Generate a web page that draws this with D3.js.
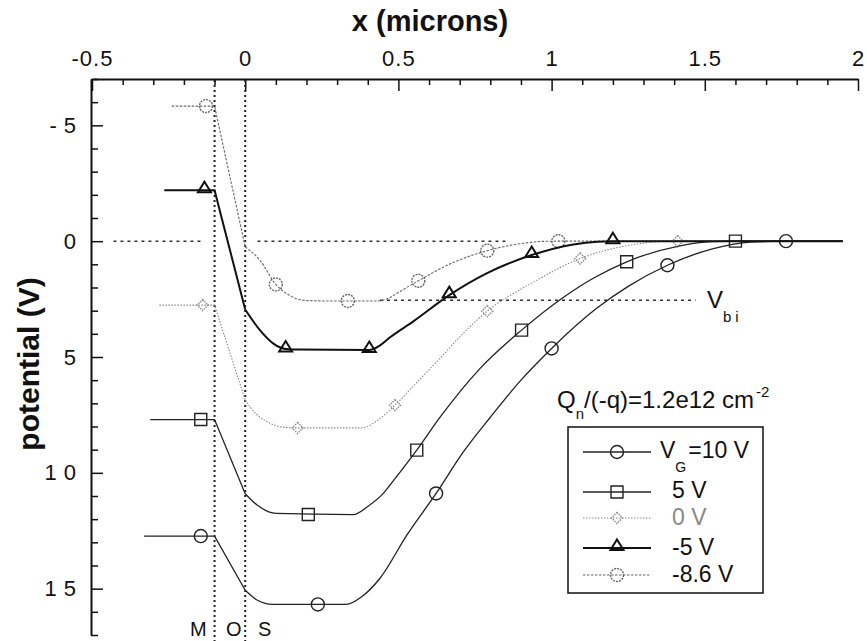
<!DOCTYPE html>
<html>
<head>
<meta charset="utf-8">
<script src="https://cdn.jsdelivr.net/npm/d3@7"></script>
<style>
body { margin: 0; background: #fff; }
text { font-family: "Liberation Sans", Arial, Helvetica, sans-serif; fill: #111; }
</style>
</head>
<body>
<div class="chart"></div>
<script>
// Axis ticks
var xTicks = [-0.5, 0, 0.5, 1, 1.5, 2];
var yTicks = [-5, 0, 5, 10, 15];

// Gate voltages (legend text)
var gateLabels = ["=10 V", "5 V", "0 V", "-5 V", "-8.6 V"];

// Metal / oxide / silicon interfaces (microns)
var interfaces = [-0.1, 0];

// Flat metal level of each curve and where the line starts
var metalStart = [-0.33, -0.31, -0.28, -0.264, -0.24];
var metalLevel = [12.73, 7.7, 2.76, -2.2, -5.83];

// Potential in the silicon (x >= 0)
var semi10 = [[0, 15.07], [0.04, 15.5], [0.09, 15.68], [0.33, 15.68], [0.38, 15.35], [0.44, 14.55],
  [0.527, 12.7], [0.623, 10.89], [0.712, 9.1], [0.8, 7.6], [0.9, 6.0], [1.0, 4.63], [1.147, 2.9],
  [1.25, 1.95], [1.378, 1.04], [1.528, 0.32], [1.65, 0.04], [1.765, 0], [1.95, 0]];
var semi5 = [[0, 10.9], [0.04, 11.4], [0.1, 11.75], [0.353, 11.8], [0.4, 11.45], [0.45, 10.9],
  [0.483, 10.35], [0.56, 9.02], [0.636, 7.6], [0.766, 5.5], [0.902, 3.84], [1.038, 2.43],
  [1.136, 1.6], [1.245, 0.89], [1.419, 0.2], [1.52, 0.02], [1.6, 0], [1.95, 0]];
var semi0 = [[0, 6.86], [0.035, 7.45], [0.07, 7.78], [0.12, 8.02], [0.171, 8.06], [0.38, 8.06],
  [0.43, 7.75], [0.489, 7.08], [0.56, 6.1], [0.636, 5.05], [0.71, 4.0], [0.79, 3.02], [0.93, 1.85],
  [1.093, 0.75], [1.256, 0.17], [1.35, 0.02], [1.411, 0], [1.95, 0]];
var semiM5 = [[0, 2.95], [0.048, 3.84], [0.092, 4.42], [0.132, 4.65], [0.17, 4.68], [0.405, 4.7],
  [0.44, 4.5], [0.473, 4.15], [0.55, 3.45], [0.666, 2.33], [0.788, 1.39], [0.935, 0.6],
  [1.071, 0.14], [1.15, 0.02], [1.2, 0], [1.95, 0]];
var semiM86 = [[0, 0.25], [0.048, 0.82], [0.1, 1.87], [0.14, 2.3], [0.19, 2.55], [0.25, 2.58],
  [0.43, 2.58], [0.47, 2.45], [0.494, 2.26], [0.565, 1.71], [0.679, 0.92], [0.79, 0.41],
  [0.908, 0.09], [0.97, 0.01], [1.022, 0], [1.95, 0]];

// Marker positions
var marks10 = [[-0.145, 12.73], [0.237, 15.68], [0.623, 10.89], [1.0, 4.63], [1.378, 1.04], [1.765, 0]];
var marks5 = [[-0.145, 7.7], [0.206, 11.8], [0.56, 9.02], [0.902, 3.84], [1.245, 0.89], [1.6, 0]];
var marks0 = [[-0.139, 2.76], [0.171, 8.06], [0.489, 7.08], [0.79, 3.02], [1.093, 0.75], [1.411, 0]];
var marksM5 = [[-0.133, -2.2], [0.132, 4.68], [0.405, 4.7], [0.666, 2.33], [0.935, 0.6], [1.2, 0]];
var marksM86 = [[-0.128, -5.83], [0.1, 1.87], [0.335, 2.58], [0.565, 1.71], [0.79, 0.41], [1.022, 0]];

// Reference lines
var zeroLineParts = [[-0.43, -0.14], [0.04, 0.85]];
var vbiLevel = 2.55;
var vbiRange = [0.44, 1.47];

var semis = [semi10, semi5, semi0, semiM5, semiM86];
var marks = [marks10, marks5, marks0, marksM5, marksM86];
var styles = [
  {sym: "circle", stroke: "#222", width: 1.3, dash: null, mdash: null},
  {sym: "square", stroke: "#222", width: 1.3, dash: null, mdash: null},
  {sym: "diamond", stroke: "#8a8a8a", width: 1.1, dash: "1.5,1.5", mdash: "1.5,1"},
  {sym: "triangle", stroke: "#111", width: 2, dash: null, mdash: null},
  {sym: "circle", stroke: "#666", width: 1.1, dash: "2.5,1.5", mdash: "2,1"}
];

var svg = d3.select(".chart").append("svg")
  .attr("width", 867)
  .attr("height", 641);

var x = d3.scaleLinear().domain([-0.5, 2]).range([92, 858]);
var y = d3.scaleLinear().domain([-7, 17]).range([79, 635]);

// minor ticks
var xMinor = d3.range(-0.5, 2.001, 0.1).filter(function(d) { return Math.abs(d * 2 - Math.round(d * 2)) > 1e-6; });
var yMinor = d3.range(-7, 17.001, 1).filter(function(d) { return d % 5 !== 0; });

svg.append("g")
  .attr("transform", "translate(0,79)")
  .call(d3.axisTop(x).tickValues(xMinor).tickSize(-6).tickFormat("").tickSizeOuter(0))
  .call(function(g) { g.select(".domain").remove(); });

svg.append("g")
  .attr("transform", "translate(91,0)")
  .call(d3.axisLeft(y).tickValues(yMinor).tickSize(-7).tickFormat("").tickSizeOuter(0))
  .call(function(g) { g.select(".domain").remove(); });

var xAxis = svg.append("g")
  .attr("transform", "translate(0,79)")
  .call(d3.axisTop(x).tickValues(xTicks).tickSize(-12).tickPadding(13).tickSizeOuter(0)
    .tickFormat(function(d) { return String(d); }));
xAxis.selectAll("text").style("font-size", "22px").style("letter-spacing", "1px");

var yAxis = svg.append("g")
  .attr("transform", "translate(91,0)")
  .call(d3.axisLeft(y).tickValues(yTicks).tickSize(-12).tickPadding(8).tickSizeOuter(0)
    .tickFormat(function(d) { return String(d); }));
yAxis.selectAll("text").style("font-size", "22px").style("letter-spacing", "7px");

svg.selectAll(".domain").attr("stroke-width", 2).attr("stroke", "#111");
svg.selectAll(".tick line").attr("stroke-width", 1.5).attr("stroke", "#111");

// MOS boundaries
svg.selectAll(".iface")
  .data(interfaces)
  .enter()
  .append("line")
  .attr("x1", function(d) { return x(d); })
  .attr("x2", function(d) { return x(d); })
  .attr("y1", 80)
  .attr("y2", 641)
  .attr("stroke", "#222")
  .attr("stroke-width", 2)
  .attr("stroke-dasharray", "2,3");

// V = 0 and Vbi dotted lines
svg.selectAll(".zero")
  .data(zeroLineParts)
  .enter()
  .append("line")
  .attr("x1", function(d) { return x(d[0]); })
  .attr("x2", function(d) { return x(d[1]); })
  .attr("y1", y(0))
  .attr("y2", y(0))
  .attr("stroke", "#333")
  .attr("stroke-width", 1.5)
  .attr("stroke-dasharray", "3,4");

svg.append("line")
  .attr("x1", x(vbiRange[0]))
  .attr("x2", x(vbiRange[1]))
  .attr("y1", y(vbiLevel))
  .attr("y2", y(vbiLevel))
  .attr("stroke", "#333")
  .attr("stroke-width", 1.5)
  .attr("stroke-dasharray", "3,4");

var lineLinear = d3.line()
  .x(function(d) { return x(d[0]); })
  .y(function(d) { return y(d[1]); });

var lineSmooth = d3.line()
  .curve(d3.curveMonotoneX)
  .x(function(d) { return x(d[0]); })
  .y(function(d) { return y(d[1]); });

function markerPath(sym) {
  if (sym === "square") return "M-6,-6H6V6H-6Z";
  if (sym === "diamond") return "M0,-5.5L5.5,0L0,5.5L-5.5,0Z";
  if (sym === "triangle") return "M0,-8.5L6.5,2L-6.5,2Z";
  return d3.symbol(d3.symbolCircle, 133)();
}

function drawMarker(g, st, cx, cy) {
  g.append("path")
    .attr("d", markerPath(st.sym))
    .attr("transform", "translate(" + cx + "," + cy + ")")
    .attr("fill", "none")
    .attr("stroke", st.stroke)
    .attr("stroke-width", st.sym === "triangle" ? 2 : 1.4)
    .attr("stroke-dasharray", st.mdash);
}

// draw curves, dotted ones first so the solid ones stay on top
var curves = svg.append("g");
[4, 2, 0, 1, 3].forEach(function(i) {
  var st = styles[i];
  var g = curves.append("g");
  var metal = [[metalStart[i], metalLevel[i]], [interfaces[0], metalLevel[i]], semis[i][0]];
  g.append("path")
    .attr("d", lineLinear(metal))
    .attr("fill", "none")
    .attr("stroke", st.stroke)
    .attr("stroke-width", st.width)
    .attr("stroke-dasharray", st.dash);
  g.append("path")
    .attr("d", lineSmooth(semis[i]))
    .attr("fill", "none")
    .attr("stroke", st.stroke)
    .attr("stroke-width", st.width)
    .attr("stroke-dasharray", st.dash);
  marks[i].forEach(function(m) {
    drawMarker(g, st, x(m[0]), y(m[1]));
  });
});

// axis titles
svg.append("text")
  .attr("x", 430)
  .attr("y", 31)
  .attr("text-anchor", "middle")
  .style("font-size", "29px")
  .style("font-weight", "bold")
  .text("x (microns)");

svg.append("text")
  .attr("transform", "translate(39,364) rotate(-90)")
  .attr("text-anchor", "middle")
  .style("font-size", "30px")
  .style("font-weight", "bold")
  .text("potential (V)");

// M O S labels
[["M", 190], ["O", 226], ["S", 258]].forEach(function(d) {
  svg.append("text")
    .attr("x", d[1])
    .attr("y", 636)
    .style("font-size", "20px")
    .text(d[0]);
});

// Vbi label
var vbiText = svg.append("text").attr("x", 707).attr("y", 308).style("font-size", "24px");
vbiText.append("tspan").text("V");
vbiText.append("tspan").attr("dy", 14).style("font-size", "15px").style("letter-spacing", "4px").text("bi");

// Qn title
var qText = svg.append("text").attr("x", 557).attr("y", 408).style("font-size", "24px");
qText.append("tspan").text("Q");
qText.append("tspan").attr("dy", 11).style("font-size", "15px").text("n");
qText.append("tspan").attr("dy", -11).text("/(-q)=1.2e12 cm");
qText.append("tspan").attr("dy", -11).attr("dx", 2).style("font-size", "15px").text("-2");

// legend
var legend = svg.append("g");
legend.append("rect")
  .attr("x", 568)
  .attr("y", 427)
  .attr("width", 195)
  .attr("height", 166)
  .attr("fill", "#fff")
  .attr("stroke", "#111")
  .attr("stroke-width", 1.5);

var legendLineY = [452, 492, 518, 548, 575];
var legendTextY = [458, 498, 525, 555, 582];

gateLabels.forEach(function(label, i) {
  var st = styles[i];
  legend.append("line")
    .attr("x1", 583)
    .attr("x2", 651)
    .attr("y1", legendLineY[i])
    .attr("y2", legendLineY[i])
    .attr("stroke", st.stroke)
    .attr("stroke-width", st.width)
    .attr("stroke-dasharray", st.dash);
  drawMarker(legend, st, 617, legendLineY[i]);
  var t = legend.append("text")
    .attr("y", legendTextY[i])
    .style("font-size", "23px");
  if (i === 0) {
    t.attr("x", 660);
    t.append("tspan").text("V");
    t.append("tspan").attr("dy", 14).style("font-size", "14px").text("G");
    t.append("tspan").attr("dy", -14).attr("dx", 2).text(label);
  } else {
    t.attr("x", 672).text(label);
    if (i === 2) t.style("fill", "#888");
  }
});
</script>
</body>
</html>
